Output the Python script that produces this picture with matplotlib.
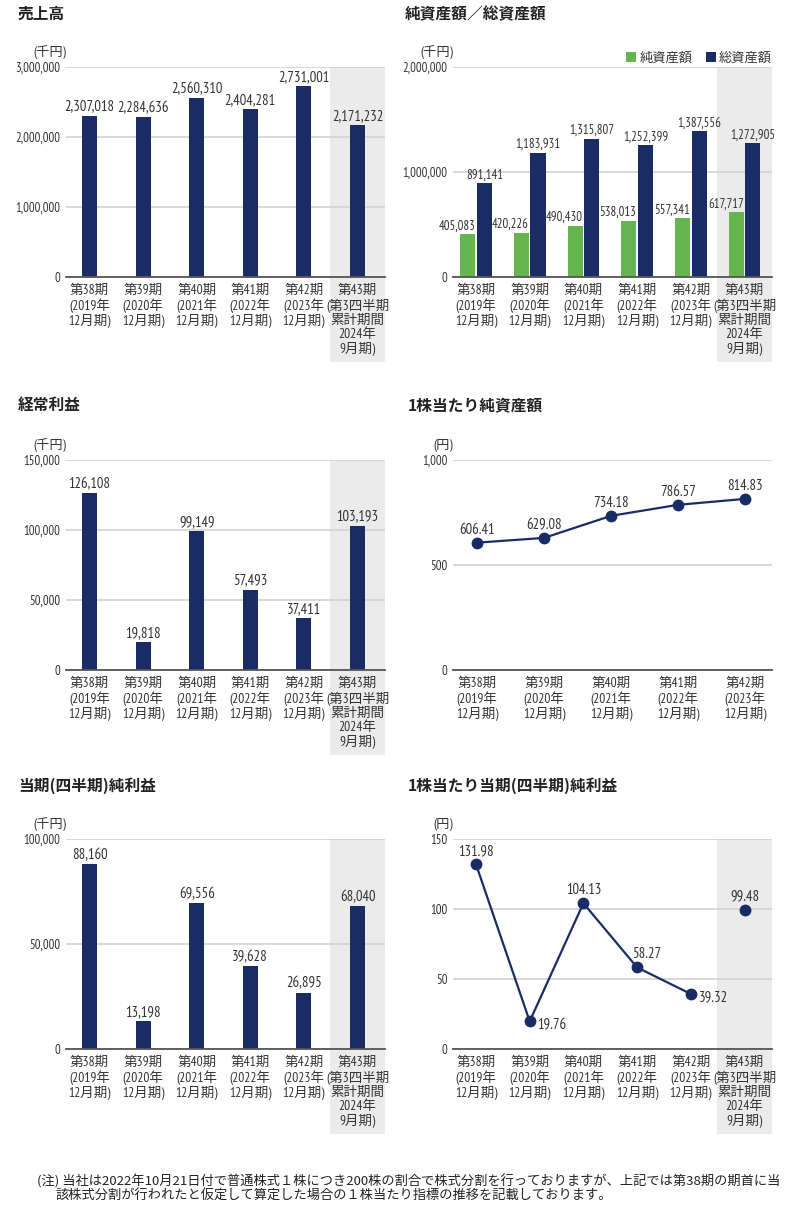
import matplotlib
matplotlib.use("Agg")
import matplotlib.pyplot as plt
from matplotlib import font_manager
from matplotlib.patches import Patch, Rectangle
import matplotlib.transforms as mtransforms

# ---------------- data ----------------
periods6 = ["第38期\n(2019年\n12月期)", "第39期\n(2020年\n12月期)", "第40期\n(2021年\n12月期)",
            "第41期\n(2022年\n12月期)", "第42期\n(2023年\n12月期)",
            "第43期\n(第3四半期\n累計期間\n2024年\n9月期)"]
periods5 = periods6[:5]

sales = [2307018, 2284636, 2560310, 2404281, 2731001, 2171232]
net_assets = [405083, 420226, 490430, 538013, 557341, 617717]
total_assets = [891141, 1183931, 1315807, 1252399, 1387556, 1272905]
ordinary_profit = [126108, 19818, 99149, 57493, 37411, 103193]
bps = [606.41, 629.08, 734.18, 786.57, 814.83]
net_income = [88160, 13198, 69556, 39628, 26895, 68040]
eps = [131.98, 19.76, 104.13, 58.27, 39.32, 99.48]

sales_ticks = [0, 1000000, 2000000, 3000000]
assets_ticks = [0, 1000000, 2000000]
ordinary_ticks = [0, 50000, 100000, 150000]
bps_ticks = [0, 500, 1000]
income_ticks = [0, 50000, 100000]
eps_ticks = [0, 50, 100, 150]

titles = ["売上高", "純資産額／総資産額", "経常利益", "1株当たり純資産額",
          "当期(四半期)純利益", "1株当たり当期(四半期)純利益"]
legend_labels = ["純資産額", "総資産額"]
note_lines = ["(注) 当社は2022年10月21日付で普通株式１株につき200株の割合で株式分割を行っておりますが、上記では第38期の期首に当",
              "該株式分割が行われたと仮定して算定した場合の１株当たり指標の推移を記載しております。"]

# ---------------- style ----------------
NAVY = "#1a2c66"
GREEN = "#66b64f"
BAND = "#ebebeb"
GRID = "#d2d2d2"
AXIS = "#555555"
TXT = "#333333"

avail = {f.name for f in font_manager.fontManager.ttflist}
narrow = "Liberation Sans"
for cand in ["PT Sans Narrow", "Roboto Condensed", "Fira Sans Condensed", "Liberation Sans Narrow",
             "DejaVu Sans Condensed", "Liberation Sans"]:
    if cand in avail:
        narrow = cand
        break
CJK = "Noto Sans CJK JP"
NUMFAM = [narrow, CJK]
plt.rcParams["font.family"] = [CJK, "DejaVu Sans"]

W, H = 800, 1222
fig = plt.figure(figsize=(W / 100, H / 100), dpi=100)
fig.patch.set_facecolor("white")


def make_ax(left, top, right, bottom):
    return fig.add_axes([left / W, 1 - bottom / H, (right - left) / W, (bottom - top) / H])


def style_ax(ax, yticks, ylim, xlabels, xlim, fmt, band=True, unit="(千円)"):
    ax.set_xlim(*xlim)
    ax.set_ylim(*ylim)
    ax.set_yticks(yticks)
    ax.set_yticklabels([fmt(t) for t in yticks], family=NUMFAM, fontsize=9.2, color=TXT)
    ax.set_xticks(range(len(xlabels)))
    ax.set_xticklabels(xlabels, family=NUMFAM, fontsize=9.7, color=TXT, linespacing=1.12,
                       va="top", ha="center", multialignment="center")
    ax.tick_params(axis="both", length=0)
    ax.tick_params(axis="y", pad=4)
    ax.tick_params(axis="x", pad=5)
    for s in ["top", "right", "left"]:
        ax.spines[s].set_visible(False)
    ax.spines["bottom"].set_color(AXIS)
    ax.spines["bottom"].set_linewidth(1.3)
    ax.spines["bottom"].set_zorder(5)
    ax.grid(axis="y", color=GRID, linewidth=1.2, zorder=1)
    ax.set_axisbelow(True)
    ax.set_facecolor("none")
    if band:
        n = len(xlabels)
        trans = mtransforms.blended_transform_factory(ax.transData, ax.transAxes)
        r = Rectangle((n - 1.513, -0.405), 1.026, 1.405, transform=trans, facecolor=BAND,
                      edgecolor="none", zorder=0, clip_on=False)
        ax.add_patch(r)
    ax.text(0.0, 1.07, unit, transform=ax.transAxes, ha="right", va="center",
            fontsize=9.5, color=TXT, family=[narrow, CJK])


def title(x, y, s):
    fig.text(x / W, 1 - y / H, s, ha="left", va="center", fontsize=11.3, fontweight="bold",
             color="#222222", family=[CJK, "DejaVu Sans"])


def bar_labels(ax, xs, vals, ha="center", size=10.5):
    for x, v in zip(xs, vals):
        ax.annotate(f"{v:,}", (x, v), xytext=(0, 3.5), textcoords="offset points",
                    ha=ha, va="baseline", fontsize=size, color=TXT, family=NUMFAM, zorder=6)


comma = lambda t: f"{int(t):,}"
BW = 0.28
XL_L = (-0.438, 5.513)
XL_R = (-0.428, 5.512)

# ---- 1. 売上高 ----
ax1 = make_ax(66, 67, 385, 277)
style_ax(ax1, sales_ticks, (0, 3000000), periods6, XL_L, comma)
x6 = list(range(6))
ax1.bar(x6, sales, width=BW, color=NAVY, zorder=3)
bar_labels(ax1, x6, sales)
title(18, 14, titles[0])

# ---- 2. 純資産額／総資産額 ----
ax2 = make_ax(453, 67, 772, 277)
style_ax(ax2, assets_ticks, (0, 2000000), periods6, XL_R, comma)
off = 0.155
xg = [x - off for x in x6]
xn = [x + off for x in x6]
ax2.bar(xg, net_assets, width=BW, color=GREEN, zorder=3)
ax2.bar(xn, total_assets, width=BW, color=NAVY, zorder=3)
bar_labels(ax2, [x + BW / 2 for x in xg], net_assets, ha="right", size=9.2)
bar_labels(ax2, xn, total_assets, size=9.2)
handles = [Patch(facecolor=GREEN, edgecolor="none"), Patch(facecolor=NAVY, edgecolor="none")]
leg = ax2.legend(handles, legend_labels, ncol=2, loc="lower right", bbox_to_anchor=(1.0, 1.01),
                 frameon=False, handlelength=0.75, handleheight=0.75, handletextpad=0.25,
                 columnspacing=1.0, borderpad=0.0, borderaxespad=0.0,
                 prop={"family": [CJK], "size": 9.5})
for t in leg.get_texts():
    t.set_color(TXT)
title(405, 14, titles[1])

# ---- 3. 経常利益 ----
ax3 = make_ax(66, 460, 385, 670)
style_ax(ax3, ordinary_ticks, (0, 150000), periods6, XL_L, comma)
ax3.bar(x6, ordinary_profit, width=BW, color=NAVY, zorder=3)
bar_labels(ax3, x6, ordinary_profit)
title(18, 405, titles[2])

# ---- 4. 1株当たり純資産額 ----
ax4 = make_ax(453, 460, 772, 670)
x5 = list(range(5))
style_ax(ax4, bps_ticks, (0, 1000), periods5, (-0.358, 4.40), comma, band=False, unit="(円)")
ax4.plot(x5, bps, color=NAVY, linewidth=1.6, marker="o", markersize=7.5, zorder=4)
for x, v in zip(x5, bps):
    ax4.annotate(f"{v:.2f}", (x, v), xytext=(0, 6.5), textcoords="offset points",
                 ha="center", va="baseline", fontsize=10.5, color=TXT, family=NUMFAM, zorder=6)
title(408, 405, titles[3])

# ---- 5. 当期(四半期)純利益 ----
ax5 = make_ax(66, 839, 385, 1049)
style_ax(ax5, income_ticks, (0, 100000), periods6, XL_L, comma)
ax5.bar(x6, net_income, width=BW, color=NAVY, zorder=3)
bar_labels(ax5, x6, net_income)
title(18, 786, titles[4])

# ---- 6. 1株当たり当期(四半期)純利益 ----
ax6 = make_ax(453, 839, 772, 1049)
style_ax(ax6, eps_ticks, (0, 150), periods6, XL_R, comma, unit="(円)")
ax6.plot(x5, eps[:5], color=NAVY, linewidth=1.6, marker="o", markersize=7.5, zorder=4)
ax6.plot([5], [eps[5]], color=NAVY, linestyle="none", marker="o", markersize=7.5, zorder=4)
label_off = [(0, 6.5), None, (0, 6.5), (7, 6.5), None, (0, 6.5)]
for x, v, o in zip(x6, eps, label_off):
    if o is not None:
        ax6.annotate(f"{v:.2f}", (x, v), xytext=o, textcoords="offset points",
                     ha="center", va="baseline", fontsize=10.5, color=TXT, family=NUMFAM, zorder=6)
    else:
        ax6.annotate(f"{v:.2f}", (x, v), xytext=(5.5, -2.5), textcoords="offset points",
                     ha="left", va="center", fontsize=10.5, color=TXT, family=NUMFAM, zorder=6)
title(408, 786, titles[5])

# ---- footnote ----
fig.text(37 / W, 1 - 1181 / H, note_lines[0], ha="left", va="center", fontsize=9.5,
         color="#222222", family=[CJK, "DejaVu Sans"])
fig.text(55 / W, 1 - 1196 / H, note_lines[1], ha="left", va="center", fontsize=9.5,
         color="#222222", family=[CJK, "DejaVu Sans"])

fig.savefig("out.png", dpi=100, facecolor="white")
